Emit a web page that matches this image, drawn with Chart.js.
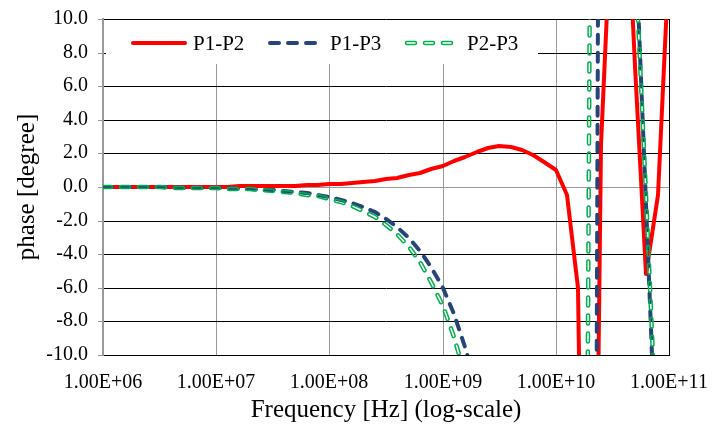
<!DOCTYPE html>
<html>
<head>
<meta charset="utf-8">
<script src="https://cdn.jsdelivr.net/npm/chart.js@4.4.1/dist/chart.umd.min.js"></script>
<style>
  body { margin: 0; background: #fff; }
</style>
</head>
<body>
<canvas id="phase-chart" width="712" height="429"></canvas>
<script>
// frequency points, ten per decade
const freqs = [
  1.00e6, 1.26e6, 1.58e6, 2.00e6, 2.51e6, 3.16e6, 3.98e6, 5.01e6, 6.31e6, 7.94e6,
  1.00e7, 1.26e7, 1.58e7, 2.00e7, 2.51e7, 3.16e7, 3.98e7, 5.01e7, 6.31e7, 7.94e7,
  1.00e8, 1.26e8, 1.58e8, 2.00e8, 2.51e8, 3.16e8, 3.98e8, 5.01e8, 6.31e8, 7.94e8,
  1.00e9, 1.26e9, 1.58e9, 2.00e9, 2.51e9, 3.16e9, 3.98e9, 5.01e9, 6.31e9, 7.94e9,
  1.00e10, 1.26e10, 1.58e10, 2.00e10, 2.51e10, 3.16e10, 3.98e10, 5.01e10, 6.31e10, 7.94e10,
  1.00e11,
];

const p1p2 = [
  0, 0, 0, 0, 0, 0.01, 0.01, 0.01, 0.01, 0.02,
  0.02, 0.02, 0.03, 0.03, 0.04, 0.05, 0.06, 0.08, 0.10, 0.12,
  0.15, 0.19, 0.23, 0.29, 0.36, 0.45, 0.56, 0.70, 0.86, 1.05,
  1.27, 1.52, 1.80, 2.08, 2.30, 2.42, 2.38, 2.20, 1.90, 1.50,
  1.00, -0.50, -6.00, -54, 2.5, 17, 21, 7.2, -5.2, -0.45,
  13.5,
];

const p1p3 = [
  -0.01, -0.01, -0.01, -0.01, -0.02, -0.02, -0.02, -0.03, -0.04, -0.05,
  -0.06, -0.08, -0.10, -0.12, -0.15, -0.19, -0.24, -0.30, -0.38, -0.48,
  -0.60, -0.76, -0.95, -1.20, -1.51, -1.90, -2.39, -3.01, -3.79, -4.77,
  -6.00, -7.55, -9.51, -12.0, -15.1, -19.0, -23.9, -30.1, -37.9, -47.7,
  -60, -75, -95, -120, 60, 50, 35, 15.4, -1.0, -18.9,
  -36,
];

const p2p3 = [
  -0.01, -0.01, -0.01, -0.02, -0.02, -0.02, -0.03, -0.04, -0.04, -0.06,
  -0.07, -0.09, -0.11, -0.14, -0.18, -0.22, -0.28, -0.35, -0.45, -0.56,
  -0.71, -0.89, -1.12, -1.41, -1.78, -2.24, -2.82, -3.55, -4.47, -5.63,
  -7.08, -8.91, -11.2, -14.1, -17.8, -22.4, -28.2, -35.5, -44.7, -56.3,
  -70.8, -89, -120, 14, 40, 45, 30, 14, -0.5, -17,
  -33,
];

const seriesNames = ["P1-P2", "P1-P3", "P2-P3"];
const xTicks = [1e6, 1e7, 1e8, 1e9, 1e10, 1e11];
const xTickLabels = ["1.00E+06", "1.00E+07", "1.00E+08", "1.00E+09", "1.00E+10", "1.00E+11"];

const FONT = '"Liberation Serif", "Times New Roman", serif';

function toPoints(values) {
  return values.map((v, i) => ({ x: freqs[i], y: v }));
}

// P2-P3 is a hollow dashed line: green stroke with its middle cut out
const hollowLine = {
  id: "hollowLine",
  beforeDatasetDraw(chart, args) {
    const ds = chart.data.datasets[args.index];
    if (ds.isInner) return false;
    if (ds.innerIndex === undefined) return;

    const area = chart.chartArea;
    const off = document.createElement("canvas");
    off.width = chart.canvas.width;
    off.height = chart.canvas.height;
    const octx = off.getContext("2d");
    octx.beginPath();
    octx.rect(area.left, area.top, area.right - area.left, area.bottom - area.top);
    octx.clip();
    args.meta.dataset.draw(octx, area);
    octx.globalCompositeOperation = "destination-out";
    chart.getDatasetMeta(ds.innerIndex).dataset.draw(octx, area);
    chart.ctx.drawImage(off, 0, 0);
    return false;
  },
};

// legend sits inside the plot area on a white box
const legendBox = {
  id: "legendBox",
  beforeDatasetsDraw(chart) {
    const { ctx, chartArea } = chart;
    const left = chartArea.left + 3;
    const top = chartArea.top + 1;
    ctx.save();
    ctx.fillStyle = "#fff";
    ctx.fillRect(left, top, 432, 44);

    const y = top + 23;
    ctx.font = "21px " + FONT;
    ctx.textBaseline = "middle";
    ctx.lineCap = "round";

    for (let i = 0; i < seriesNames.length; i++) {
      const ds = chart.data.datasets[i];
      const x0 = chartArea.left + 30 + i * 137;
      ctx.beginPath();
      ctx.moveTo(x0, y);
      ctx.lineTo(x0 + 52, y);
      ctx.strokeStyle = ds.borderColor;
      ctx.lineWidth = ds.borderWidth;
      ctx.setLineDash(ds.borderDash || []);
      ctx.stroke();
      if (ds.innerIndex !== undefined) {
        const inner = chart.data.datasets[ds.innerIndex];
        ctx.strokeStyle = "#fff";
        ctx.lineWidth = inner.borderWidth;
        ctx.stroke();
      }
      ctx.setLineDash([]);
      ctx.fillStyle = "#000";
      ctx.fillText(seriesNames[i], x0 + 60, y + 1);
    }
    ctx.restore();
  },
};

function main() {
  const el = document.querySelector("#phase-chart");
  Chart.defaults.font.family = FONT;
  Chart.defaults.font.size = 20;
  Chart.defaults.color = "#000";

  new Chart(el, {
    type: "line",
    data: {
      datasets: [
        {
          label: seriesNames[0],
          data: toPoints(p1p2),
          borderColor: "#ff0000",
          borderWidth: 4,
          borderJoinStyle: "round",
          order: 3,
        },
        {
          label: seriesNames[1],
          data: toPoints(p1p3),
          borderColor: "#264478",
          borderWidth: 4,
          borderDash: [9, 9],
          borderCapStyle: "round",
          order: 2,
        },
        {
          label: seriesNames[2],
          data: toPoints(p2p3),
          borderColor: "#00b050",
          borderWidth: 4.5,
          borderDash: [8, 10],
          borderCapStyle: "round",
          innerIndex: 3,
          order: 1,
        },
        {
          label: seriesNames[2] + " inner",
          data: toPoints(p2p3),
          borderColor: "#ffffff",
          borderWidth: 1.5,
          borderDash: [8, 10],
          borderCapStyle: "round",
          isInner: true,
          order: 0,
        },
      ],
    },
    options: {
      responsive: false,
      animation: false,
      events: [],
      elements: { point: { radius: 0 }, line: { tension: 0 } },
      layout: { padding: { top: 19, right: 43, left: 0, bottom: 0 } },
      plugins: { legend: { display: false }, tooltip: { enabled: false } },
      scales: {
        x: {
          type: "logarithmic",
          min: 1e6,
          max: 1e11,
          alignToPixels: true,
          afterBuildTicks: (scale) => {
            scale.ticks = xTicks.map((v) => ({ value: v }));
          },
          afterFit: (scale) => {
            scale.height = 74;
            scale.paddingLeft = 0;
            scale.paddingRight = 0;
          },
          ticks: {
            autoSkip: false,
            maxRotation: 0,
            padding: 16,
            callback: (v) => xTickLabels[xTicks.indexOf(v)],
          },
          grid: {
            drawTicks: false,
            color: (c) => (c.index === xTicks.length - 1 ? "#000" : "#999"),
            lineWidth: 1,
          },
          border: { color: "#000", width: 1 },
          title: {
            display: true,
            text: "Frequency [Hz] (log-scale)",
            font: { size: 25 },
            padding: { top: 0, bottom: 4 },
          },
        },
        y: {
          min: -10,
          max: 10,
          alignToPixels: true,
          afterFit: (scale) => {
            scale.width = 103;
            scale.paddingTop = 0;
            scale.paddingBottom = 0;
          },
          ticks: {
            stepSize: 2,
            padding: 10,
            callback: (v) => v.toFixed(1),
          },
          grid: {
            color: (c) => (c.tick && c.tick.value === 0 ? "#999" : "#000"),
            tickColor: "#999",
            tickLength: 5,
            lineWidth: 1,
          },
          border: { color: "#999", width: 2 },
          title: {
            display: true,
            text: "phase [degree]",
            font: { size: 25 },
            padding: { top: 12, bottom: 0 },
          },
        },
      },
    },
    plugins: [hollowLine, legendBox],
  });
}

main();
</script>
</body>
</html>
